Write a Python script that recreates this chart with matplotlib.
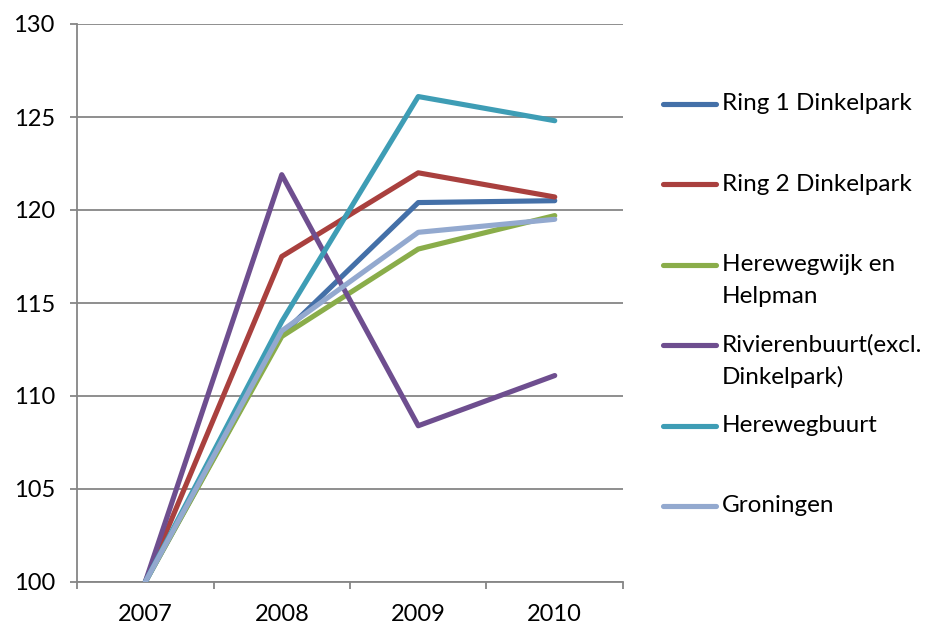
import matplotlib
matplotlib.use("Agg")
import matplotlib.pyplot as plt
from matplotlib.lines import Line2D
import numpy as np

# ── data ──────────────────────────────────────────────────────────────────
YEARS = ["2007", "2008", "2009", "2010"]
RING1 = [100, 113.3, 120.4, 120.5]
RING2 = [100, 117.5, 122.0, 120.7]
HEREWEGWIJK = [100, 113.2, 117.9, 119.7]
RIVIERENBUURT = [100, 121.9, 108.4, 111.1]
HEREWEGBUURT = [100, 114.0, 126.1, 124.8]
GRONINGEN = [100, 113.5, 118.8, 119.5]

LABELS = ["Ring 1 Dinkelpark", "Ring 2 Dinkelpark", "Herewegwijk en\nHelpman",
          "Rivierenbuurt(excl.\nDinkelpark)", "Herewegbuurt", "Groningen"]
COLORS = ["#4470A8", "#A9403E", "#8AAD4A", "#6E4E8F", "#3E9DB5", "#93A9CF"]
SERIES = [RING1, RING2, HEREWEGWIJK, RIVIERENBUURT, HEREWEGBUURT, GRONINGEN]
# ──────────────────────────────────────────────────────────────────────────

plt.rcParams["font.family"] = ["Lato", "DejaVu Sans"]
W, H = 928, 628
fig = plt.figure(figsize=(W / 100, H / 100), dpi=100)
ax = fig.add_axes([77 / W, 1 - 582 / H, (623 - 77) / W, (582 - 24) / H])

x = np.arange(len(YEARS))
for vals, col in zip(SERIES, COLORS):
    ax.plot(x, vals, color=col, lw=3.7, solid_capstyle="round",
            solid_joinstyle="round", zorder=3)

grey = "#868686"
ax.set_xlim(-0.5, len(YEARS) - 0.5)
ax.set_ylim(100, 130)
ax.set_yticks(np.arange(100, 131, 5))
ax.yaxis.grid(True, color=grey, lw=1.3)
ax.set_axisbelow(True)
for s in ("top", "right"):
    ax.spines[s].set_visible(False)
for s in ("left", "bottom"):
    ax.spines[s].set_color(grey)
    ax.spines[s].set_linewidth(1.3)

ax.set_xticks(x)
ax.set_xticklabels(YEARS)
ax.set_xticks(np.arange(-0.5, len(YEARS)), minor=True)
ax.tick_params(axis="x", which="major", length=0, pad=16, labelsize=17)
ax.tick_params(axis="x", which="minor", length=5, color=grey, width=1.3)
ax.tick_params(axis="y", length=5, color=grey, width=1.3, pad=11, labelsize=17)

# legend drawn by hand so the handle sits on the first text line
y0, step, line_h = 104, 80.4, 32
for i, (lab, col) in enumerate(zip(LABELS, COLORS)):
    yy = y0 + i * step
    fig.add_artist(Line2D([663 / W, 716 / W], [1 - yy / H, 1 - yy / H],
                          color=col, lw=3.7, solid_capstyle="round"))
    for j, part in enumerate(lab.split("\n")):
        fig.text(722 / W, 1 - (yy + j * line_h) / H, part, fontsize=17.5,
                 va="center", ha="left")

fig.savefig("out.png", dpi=100)
